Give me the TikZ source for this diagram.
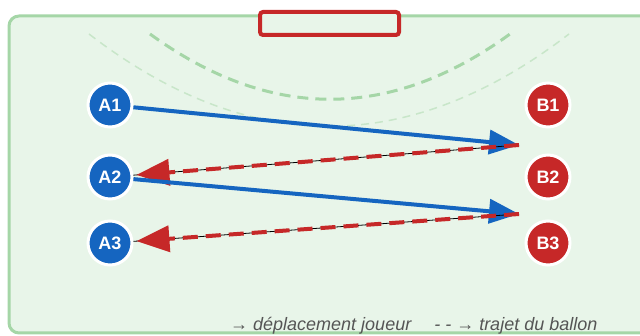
\documentclass[tikz,border=0pt]{standalone}
\usepackage{fontspec}
\setmainfont{Liberation Sans}
\usetikzlibrary{arrows.meta}

\definecolor{fieldgreen}{HTML}{E8F5E9}
\definecolor{linegreen}{HTML}{A5D6A7}
\definecolor{palegreen}{HTML}{C8E6C9}
\definecolor{teamblue}{HTML}{1565C0}
\definecolor{teamred}{HTML}{C62828}
\definecolor{legendgray}{HTML}{555555}

\begin{document}
\begin{tikzpicture}[
  x=1pt, y=-1pt,
  player/.style={circle, draw=white, line width=3pt, minimum size=44pt, inner sep=0pt, text=white, font=\bfseries\fontsize{18}{18}\selectfont},
  teamA/.style={player, fill=teamblue},
  teamB/.style={player, fill=teamred},
  run/.style={draw=teamblue, line width=4pt, -{Triangle[length=30pt, width=24pt]}},
  pass/.style={draw=teamred, line width=4pt, dash pattern=on 15pt off 8pt, -{Triangle[length=33pt, width=26pt]}},
  passcore/.style={draw=black, line width=0.8pt}
]
\useasboundingbox (0,0) rectangle (640,336);

% pitch and goal
\draw[fill=fieldgreen, draw=linegreen, line width=3pt, rounded corners=10pt] (9,16) rectangle (660,333);
\draw[palegreen, line width=1.5pt, dash pattern=on 8pt off 6pt] (89,34) .. controls (249,157) and (409,157) .. (569,34);
\draw[linegreen, line width=3pt, dash pattern=on 11pt off 7pt] (150,34) .. controls (270,121) and (390,121) .. (510,34);
\draw[teamred, fill=fieldgreen, line width=4pt, rounded corners=3pt] (260,12) rectangle (399,35);

% players
\node[teamA] (A1) at (110,105) {A1};
\node[teamA] (A2) at (110,177) {A2};
\node[teamA] (A3) at (110,243) {A3};
\node[teamB] (B1) at (548,105) {B1};
\node[teamB] (B2) at (548,177) {B2};
\node[teamB] (B3) at (548,243) {B3};

\coordinate (turn1) at (519,145);
\coordinate (turn2) at (519,214);

% runs and passes
\draw[run] (A1) -- (turn1);
\draw[passcore] (turn1) -- (A2);
\draw[pass, shorten >=3pt] (turn1) -- (A2);
\draw[run] (A2) -- (turn2);
\draw[passcore] (turn2) -- (A3);
\draw[pass, shorten >=3pt] (turn2) -- (A3);

% legend
\node[anchor=base west, text=legendgray, font=\itshape\fontsize{18}{18}\selectfont, inner sep=0pt] (legend) at (230,331)
  {\textrightarrow\ déplacement joueur \quad - - \textrightarrow\ trajet du ballon};
\end{tikzpicture}
\end{document}
